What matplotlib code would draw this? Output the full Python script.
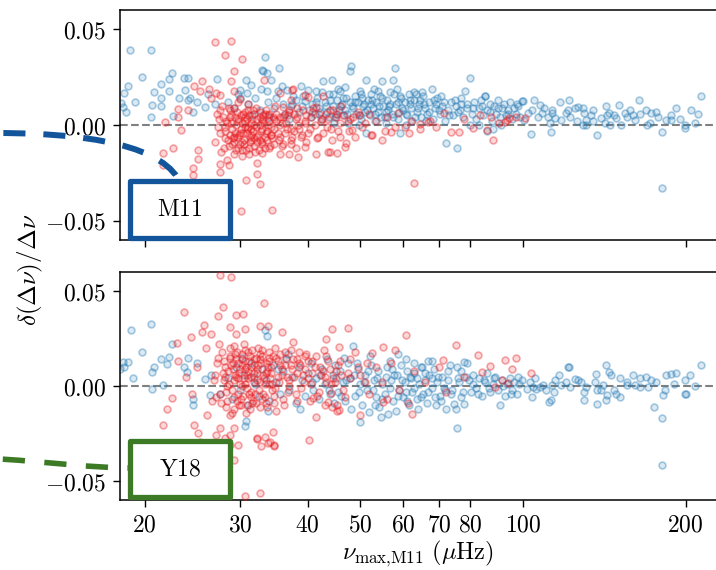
import numpy as np
import matplotlib
matplotlib.use('Agg')
import matplotlib.pyplot as plt
from matplotlib.colors import to_rgba
from matplotlib.patches import Rectangle, PathPatch
from matplotlib.path import Path
from matplotlib.ticker import FixedLocator, FixedFormatter, NullLocator

plt.rcParams['mathtext.fontset'] = 'cm'
plt.rcParams['font.family'] = 'serif'

# (nu_max, relative offset) pairs, upper panel (M11)
m11_blue = [
    (18.1, 0.0114), (18.2, 0.0096), (18.3, 0.0167), (18.6, 0.0205), (18.8, 0.0393), (19.8, 0.0253),
    (20.5, 0.039), (20.8, 0.0174), (21.4, 0.014), (21.4, 0.010), (20.6, 0.0105), (20.5, 0.0044),
    (21.4, 0.0214), (22.2, 0.0175), (22.2, 0.024), (22.5, 0.0272), (23.1, 0.014), (23.6, 0.0246),
    (23.7, 0.0184), (24.0, 0.0246), (24.2, 0.014), (22.6, 0.0047), (24.0, 0.013), (24.6, 0.007),
    (27.2, 0.0242), (25.9, 0.0096), (25.0, 0.012), (26.2, 0.016), (27.0, 0.011), (18.5, 0.007), (19.2, 0.012),
    (30.8, 0.0237), (31.4, 0.021), (33.4, 0.0356), (33.1, 0.028), (33.6, 0.0272), (35.4, 0.0295),
    (34.3, 0.0237), (35.8, 0.0202), (30.0, 0.0184), (30.9, 0.0167), (30.0, 0.014), (33.6, 0.0175),
    (35.2, 0.0175), (36.7, 0.0184), (37.6, 0.0149), (38.9, 0.0202), (40.1, 0.0184), (41.4, 0.0175),
    (33.0, 0.0286), (28.5, 0.012), (29.3, 0.009), (31.0, 0.011), (32.0, 0.014), (32.6, 0.008),
    (33.8, 0.012), (34.6, 0.009), (35.0, 0.014), (36.0, 0.011), (36.4, 0.006), (37.2, 0.010),
    (38.0, 0.013), (38.5, 0.007), (39.0, 0.010), (39.6, 0.0125), (40.3, 0.008), (31.6, 0.005),
    (34.0, 0.004), (36.9, 0.003), (29.8, 0.016), (32.8, 0.019),
    (40.8, 0.011), (41.2, 0.006), (41.7, 0.014), (42.0, 0.009), (42.4, 0.003), (42.8, 0.0228),
    (43.1, 0.012), (43.5, 0.007), (43.9, 0.016), (44.3, 0.0237), (44.6, 0.010), (45.0, 0.004),
    (45.3, 0.013), (45.7, 0.008), (46.0, 0.018), (46.4, 0.011), (46.8, 0.005), (47.2, 0.014),
    (47.5, 0.001), (47.9, 0.0281), (48.2, 0.0307), (48.5, 0.009), (48.9, 0.015), (49.2, 0.006),
    (49.6, 0.012), (50.0, 0.018), (50.3, 0.003), (50.7, 0.010), (51.0, 0.007), (51.4, 0.0237),
    (51.8, 0.013), (52.1, 0.005), (52.5, 0.016), (52.9, 0.009), (53.3, 0.002), (53.6, 0.012),
    (54.0, 0.007), (54.4, 0.015), (54.8, 0.0228), (55.2, 0.010), (55.6, 0.004), (56.0, 0.013),
    (56.4, 0.008), (56.8, 0.017), (57.2, 0.006), (57.5, 0.0237), (58.0, 0.0295), (58.3, 0.011),
    (58.7, 0.003), (59.2, -0.0044), (59.6, 0.014), (60.0, 0.008), (60.5, 0.012), (61.0, 0.005),
    (61.5, 0.016), (62.0, 0.009), (62.5, 0.002), (63.0, 0.013), (63.6, 0.007), (64.2, 0.011),
    (64.8, 0.004), (65.4, 0.015), (66.0, 0.009), (66.6, 0.006), (67.2, 0.012), (67.9, 0.0188),
    (68.1, 0.003), (68.8, 0.009), (69.5, 0.014), (70.2, 0.006), (71.0, 0.010), (71.8, 0.002),
    (72.2, -0.0096), (72.8, 0.008), (73.6, 0.012), (74.4, 0.005), (75.2, 0.010), (75.6, -0.0119),
    (51.4, -0.0044), (44.8, 0.001), (46.9, 0.020), (49.8, 0.0), (53.0, 0.019), (55.8, 0.001),
    (57.8, 0.016), (60.8, 0.0), (62.8, 0.017), (42.6, 0.017), (45.5, 0.019), (48.0, 0.012),
    (52.3, 0.011), (54.6, 0.004), (56.6, 0.010), (59.0, 0.007), (61.8, 0.011), (64.5, 0.013),
    (66.3, 0.002), (69.0, 0.011), (43.8, 0.004), (47.0, 0.008), (50.5, 0.014), (58.5, 0.019), (65.0, 0.017),
    (40.5, 0.004), (41.5, 0.012), (42.2, 0.007), (43.3, 0.010), (44.0, 0.013), (45.1, 0.006),
    (45.9, 0.010), (46.6, 0.014), (47.4, 0.006), (48.3, 0.010), (49.0, 0.012), (49.9, 0.005),
    (50.8, 0.011), (51.6, 0.008), (52.7, 0.013), (53.4, 0.006), (54.2, 0.010), (55.0, 0.014),
    (55.9, 0.007), (56.7, 0.011), (57.6, 0.004), (58.9, 0.012), (59.8, 0.009), (60.9, 0.006),
    (61.9, 0.013), (63.2, 0.004), (64.0, 0.009), (65.7, 0.011), (67.0, 0.007), (68.4, 0.013),
    (69.9, 0.008), (71.4, 0.012), (73.0, 0.005), (74.8, 0.013), (44.5, 0.016), (50.2, 0.016),
    (54.0, 0.018), (59.3, 0.015), (63.4, 0.016), (70.5, 0.015), (37.5, 0.011), (39.3, 0.015),
    (76.0, 0.007), (76.8, 0.011), (77.6, 0.004), (78.3, 0.0175), (79.0, 0.009), (79.8, 0.0244),
    (80.5, 0.006), (81.3, 0.012), (82.0, 0.003), (82.8, 0.009), (83.6, 0.013), (84.4, 0.005),
    (85.1, 0.0153), (85.3, 0.0154), (86.0, 0.008), (86.8, 0.011), (87.6, 0.002), (88.4, 0.010),
    (89.2, 0.006), (90.0, 0.013), (90.8, 0.004), (91.6, 0.009), (92.4, 0.011), (93.2, 0.005),
    (94.0, 0.008), (94.8, 0.012), (95.6, 0.003), (96.4, 0.009), (97.2, 0.006), (98.0, 0.010),
    (98.8, 0.004), (99.8, 0.0126), (88.0, -0.002), (91.0, 0.0), (83.0, 0.0), (77.0, 0.014),
    (80.0, 0.0), (86.0, -0.003), (76.5, 0.008), (78.8, 0.011), (81.0, 0.009), (84.0, 0.010),
    (87.0, 0.007), (89.8, 0.009), (93.8, 0.006), (97.6, 0.011),
    (213.2, 0.0149), (180.6, -0.0326), (204.3, 0.0079), (211.0, 0.0058), (192.2, 0.0088), (199.1, 0.0),
    (199.1, -0.0018), (180.6, -0.0035), (184.2, 0.0026), (188.2, 0.0026), (187.5, 0.0053), (163.9, 0.0132),
    (169.1, 0.0079), (172.8, 0.0061), (176.6, 0.007), (170.0, 0.0), (172.0, 0.001), (159.8, 0.0053),
    (160.9, 0.0026), (150.6, 0.0102), (154.3, 0.0061), (156.0, 0.0044), (148.9, 0.0035), (147.6, 0.0053),
    (142.7, 0.010), (143.2, 0.0053), (144.0, 0.0061), (137.3, -0.0054), (139.7, 0.0035), (141.7, 0.0009),
    (134.8, 0.0079), (133.8, 0.0053), (129.9, 0.0061), (130.9, 0.0026), (129.0, 0.0), (130.9, 0.0),
    (121.7, 0.0132), (124.7, 0.0088), (126.7, 0.0096), (129.0, 0.0088), (121.2, 0.0079), (120.3, 0.0061),
    (122.1, 0.0044), (117.5, 0.0026), (114.9, 0.0035), (113.2, 0.0061), (117.0, 0.0118), (112.9, -0.0035),
    (103.4, -0.0049), (105.0, 0.0132), (100.1, 0.0123), (107.4, 0.0105), (109.2, 0.0088), (108.3, 0.0061),
    (106.5, 0.0044), (103.9, 0.0079), (102.2, 0.0061), (100.6, 0.0026), (111.2, 0.0044), (112.1, 0.0009),
    (113.0, 0.0079), (152.0, 0.0), (165.0, 0.006), (178.0, 0.004), (195.0, 0.003), (208.0, 0.001),
    (126.0, 0.002), (135.0, 0.002), (145.0, 0.0), (158.0, 0.008),
]

m11_red = [
    (27.0, 0.0435), (28.9, 0.044), (28.1, 0.0365), (30.2, 0.0346), (29.2, 0.028), (28.9, 0.023),
    (33.2, 0.0237), (25.5, 0.0228), (24.7, 0.0205), (26.3, 0.0188), (23.0, 0.0084), (24.0, 0.0079),
    (21.8, 0.0014), (23.0, 0.004), (23.3, -0.0026), (22.6, -0.0118), (21.6, -0.0144), (21.6, -0.0207),
    (24.6, -0.0226), (24.6, -0.026), (25.7, -0.0325), (25.9, -0.0351), (26.6, -0.033), (25.0, -0.031),
    (30.1, -0.0447), (34.4, -0.0444), (27.5, -0.0247), (27.6, -0.0205), (28.6, -0.021), (30.8, -0.0286),
    (32.2, -0.0254), (32.7, -0.0307), (32.3, -0.020), (25.1, -0.0177), (25.1, -0.0128), (63.0, -0.0305),
    (38.4, -0.0165), (41.4, -0.0153), (43.6, -0.0142), (45.3, -0.0144), (47.0, -0.0116), (47.2, -0.0093),
    (54.8, -0.0077), (39.6, -0.0116), (37.0, -0.0153), (35.6, -0.0153), (32.9, -0.0144), (61.6, -0.004),
    (64.6, -0.0023), (73.7, -0.0037), (67.4, 0.002), (52.6, -0.0051), (44.0, -0.014), (76.2, -0.0037),
    (88.1, -0.008), (80.9, -0.0017), (85.9, -0.0026), (93.5, 0.0026), (66.8, 0.0016), (71.4, 0.0065),
    (64.6, 0.0004), (58.8, 0.0065), (52.4, -0.0053), (48.4, -0.0026), (57.0, -0.0035), (60.6, -0.0009),
    (100.8, 0.0035), (94.3, 0.0035), (92.5, 0.0017), (87.5, 0.004),
    (27.1, 0.0167), (27.6, 0.0156), (26.5, 0.014), (25.3, 0.018), (29.2, 0.0175), (30.0, 0.0135),
    (37.6, 0.0188), (35.6, 0.0167), (39.6, 0.0158), (41.4, 0.0096), (37.2, 0.013), (40.1, 0.0146),
    (37.4, 0.0184), (36.1, 0.0096), (42.7, 0.015),
    (27.2, 0.006), (27.5, -0.004), (27.8, 0.010), (28.0, -0.012), (28.3, 0.002), (28.5, -0.008),
    (28.7, 0.008), (29.0, -0.002), (29.2, -0.015), (29.4, 0.004), (29.6, -0.006), (29.8, 0.012),
    (30.0, -0.010), (30.2, 0.001), (30.4, -0.004), (30.6, 0.007), (30.8, -0.013), (31.0, -0.001),
    (31.2, 0.005), (31.4, -0.008), (31.6, 0.003), (31.9, -0.011), (32.1, 0.009), (32.4, -0.005),
    (32.7, 0.000), (33.0, -0.009), (33.3, 0.006), (33.6, -0.003), (34.0, 0.002), (34.4, -0.007),
    (34.8, 0.010), (35.2, -0.004), (35.6, 0.004), (36.0, -0.010), (36.5, 0.001), (37.0, 0.007),
    (37.5, -0.006), (38.0, 0.003), (38.6, -0.002), (39.2, 0.008), (39.8, -0.009), (40.5, 0.004),
    (41.2, 0.000), (42.0, 0.006), (42.8, -0.004), (43.7, 0.003), (44.6, 0.008), (45.5, -0.003),
    (46.5, 0.005), (47.5, 0.002),
    (27.0, -0.009), (27.4, 0.003), (27.7, -0.014), (28.1, -0.003), (28.4, -0.018), (28.8, 0.004),
    (29.1, -0.007), (29.3, 0.009), (29.5, 0.000), (29.7, -0.012), (29.9, -0.005), (30.1, 0.005),
    (30.3, -0.016), (30.5, -0.008), (30.7, 0.002), (30.9, -0.004), (31.1, 0.011), (31.3, -0.009),
    (31.5, -0.002), (31.8, 0.006), (32.0, -0.014), (32.3, -0.006), (32.6, 0.004), (32.9, -0.010),
    (33.2, 0.001), (33.5, 0.008), (33.9, -0.012), (34.2, -0.005), (34.6, 0.003), (35.0, 0.006),
    (35.4, -0.008), (35.8, 0.001), (36.3, -0.004), (36.8, 0.005), (37.3, -0.010), (37.8, -0.003),
    (38.3, 0.009), (38.9, -0.006), (39.5, 0.002), (40.1, -0.004), (40.8, 0.007), (41.6, -0.007),
    (42.4, 0.002), (43.3, 0.006), (44.2, -0.002), (45.1, 0.004), (46.0, -0.006), (48.0, 0.003),
    (49.5, 0.007), (51.0, 0.001),
    (28.2, -0.001), (28.6, -0.011), (28.9, 0.005), (29.3, -0.006), (29.7, 0.002), (30.0, -0.004),
    (30.3, -0.009), (30.6, 0.004), (30.9, -0.002), (31.2, -0.012), (31.5, 0.001), (31.8, -0.007),
    (32.2, 0.003), (32.5, -0.013), (32.8, -0.003), (33.1, 0.005), (33.4, -0.006), (33.8, 0.000),
    (34.1, -0.011), (34.5, 0.004), (28.4, 0.001), (28.8, -0.005), (29.2, -0.009), (29.6, 0.007),
    (30.1, -0.002), (30.5, -0.010), (30.9, 0.003), (31.3, -0.006), (31.7, 0.008), (32.1, -0.001),
    (32.6, -0.008), (33.0, 0.002), (33.5, -0.004), (34.0, 0.006), (34.7, -0.002), (35.5, 0.000),
    (36.2, 0.005), (37.2, -0.002), (38.3, 0.004), (39.5, 0.001),
    (27.3, -0.001), (27.9, 0.004), (28.2, -0.007), (28.6, 0.009), (29.0, -0.010), (29.4, -0.004),
    (29.8, 0.003), (30.2, -0.013), (30.6, -0.001), (31.0, 0.008), (31.4, -0.005), (31.8, 0.000),
    (32.2, -0.009), (32.6, 0.007), (33.0, -0.002), (33.4, -0.012), (33.8, 0.005), (34.2, -0.001),
    (34.6, -0.010), (35.0, 0.002), (35.5, -0.006), (36.0, 0.004), (36.6, -0.002), (37.2, -0.008),
    (37.8, 0.006), (38.4, 0.000), (39.0, -0.005), (39.7, 0.005), (40.4, -0.002), (41.0, 0.009),
    (41.8, -0.006), (42.6, 0.003), (43.5, -0.001), (44.4, -0.008), (45.4, 0.006), (46.2, 0.010),
    (47.8, -0.003), (49.8, 0.005), (28.9, 0.001), (30.4, 0.006), (31.7, -0.003), (32.9, 0.003),
    (34.3, -0.005), (35.8, -0.011), (36.9, 0.008), (27.6, 0.008), (29.5, -0.013), (31.2, -0.015),
    (33.7, -0.008), (38.1, -0.012),
    (48.5, 0.004), (50.5, -0.001), (52.0, 0.006), (53.5, 0.002), (55.5, -0.003), (44.0, 0.008),
    (46.0, 0.001), (49.0, -0.006), (56.0, 0.004), (62.0, 0.002), (58.0, -0.001), (69.0, -0.001),
    (78.0, 0.003), (83.5, 0.005), (90.5, 0.001), (97.0, 0.004),
]

# lower panel (Y18)
y18_blue = [
    (20.5, 0.0325), (18.9, 0.0295), (18.2, 0.0126), (18.6, 0.0126), (18.3, 0.010), (18.0, 0.009),
    (19.8, 0.0178), (22.5, 0.0221), (20.8, 0.010), (20.6, 0.0073), (20.6, -0.0014), (21.4, 0.014),
    (22.2, 0.0152), (22.0, 0.0117), (21.6, 0.0004), (24.0, 0.0147), (23.6, 0.010), (23.9, 0.0073),
    (24.6, -0.0066), (24.6, -0.0101), (25.8, 0.0038), (26.4, -0.0049), (33.4, 0.0295), (33.6, 0.0265),
    (30.7, -0.0211), (30.8, -0.0185), (25.0, 0.012), (26.5, 0.006), (27.5, -0.004), (19.0, 0.004),
    (28.5, 0.004), (29.0, -0.007), (29.5, 0.010), (30.0, -0.002), (30.5, 0.006), (31.0, -0.010),
    (31.5, 0.012), (32.0, 0.001), (32.5, -0.005), (33.0, 0.009), (33.5, 0.003), (34.0, -0.008),
    (34.5, 0.011), (35.0, 0.002), (35.5, -0.004), (36.0, 0.008), (36.5, 0.014), (37.0, -0.002),
    (37.5, 0.005), (38.0, -0.009), (38.5, 0.010), (39.0, 0.003), (39.5, -0.005), (40.0, 0.007),
    (40.5, 0.012), (41.0, -0.002), (41.5, 0.004), (42.0, -0.007), (42.5, 0.009), (43.0, 0.001),
    (43.5, 0.014), (44.0, -0.004), (44.5, 0.006), (45.0, 0.011), (30.2, 0.015), (33.8, -0.013),
    (36.8, 0.017), (38.8, -0.012), (31.8, 0.005), (35.2, 0.009),
    (45.5, -0.003), (46.0, 0.008), (46.5, 0.002), (47.0, -0.008), (47.5, 0.012), (48.0, 0.004),
    (48.5, 0.021), (49.0, -0.005), (49.5, 0.009), (50.0, 0.001), (50.1, -0.0188), (50.5, -0.010),
    (51.0, 0.006), (51.5, -0.002), (52.0, -0.0136), (52.5, 0.011), (53.0, 0.003), (53.5, -0.006),
    (54.0, 0.008), (54.6, -0.0162), (55.0, 0.001), (55.5, -0.004), (56.0, 0.010), (56.4, -0.0145),
    (57.0, 0.003), (57.5, -0.008), (58.2, -0.0133), (58.5, 0.006), (59.0, -0.002), (59.5, 0.011),
    (60.0, -0.006), (60.5, 0.002), (61.0, 0.008), (61.5, -0.010), (62.0, 0.004), (62.5, -0.003),
    (63.0, 0.007), (63.6, -0.007), (64.2, 0.001), (64.8, 0.010), (65.4, -0.004), (66.0, 0.003),
    (66.6, -0.009), (67.2, 0.006), (67.8, -0.001), (68.5, 0.009), (69.0, -0.0101), (69.5, 0.002),
    (70.2, -0.005), (71.0, 0.005), (71.8, -0.002), (72.2, -0.0119), (72.8, 0.008), (73.6, -0.004),
    (74.6, -0.0093), (75.1, -0.0119), (75.5, 0.010), (75.6, -0.022), (76.2, 0.002), (77.0, -0.006),
    (77.7, 0.0126), (77.7, -0.0093), (79.0, 0.0122), (79.5, 0.003), (80.3, -0.003), (81.0, 0.006),
    (82.0, -0.001), (83.0, 0.004), (84.0, -0.005), (85.0, 0.002), (86.0, 0.007), (87.0, -0.003),
    (88.0, 0.001), (89.0, 0.005), (90.0, -0.002), (90.9, -0.0101), (91.5, 0.003), (92.5, -0.005),
    (93.5, 0.001), (94.5, 0.004), (95.5, -0.002), (96.5, 0.002), (97.5, -0.004), (98.5, 0.001),
    (99.5, 0.003), (48.2, -0.012), (52.2, 0.016), (56.8, 0.013), (60.8, 0.014), (64.0, -0.012),
    (68.0, 0.013), (46.8, 0.015), (54.2, -0.011), (58.8, 0.017), (62.8, 0.012), (66.8, 0.013), (73.2, 0.011),
    (40.8, 0.002), (42.2, 0.006), (43.8, -0.002), (45.2, 0.004), (46.2, -0.005), (47.2, 0.003),
    (48.8, 0.006), (49.8, -0.003), (50.8, 0.002), (51.8, 0.008), (52.8, -0.002), (53.8, 0.004),
    (54.8, -0.007), (55.8, 0.005), (56.8, -0.001), (57.8, 0.006), (58.8, -0.005), (59.8, 0.003),
    (60.8, -0.003), (61.8, 0.005), (62.8, -0.001), (63.8, 0.004), (64.8, -0.006), (65.8, 0.007),
    (66.8, -0.003), (67.8, 0.004), (68.8, -0.006), (69.8, 0.005), (71.4, -0.001), (72.6, 0.003),
    (74.0, -0.002), (75.8, 0.004), (77.4, -0.003), (78.6, 0.005), (80.8, 0.001), (82.6, -0.004),
    (84.6, 0.003), (86.6, -0.001), (88.6, 0.004), (92.0, 0.000), (95.0, -0.004), (98.0, 0.005),
    (44.8, -0.009), (49.3, 0.012), (53.2, -0.010), (57.3, 0.009), (61.2, -0.008), (65.2, 0.010),
    (70.6, -0.008), (76.8, 0.008),
    (180.6, -0.0414), (180.6, -0.0171), (175.0, -0.011), (213.2, 0.0108), (203.4, 0.0056), (199.7, 0.003),
    (199.1, -0.004), (192.2, 0.007), (188.2, 0.0064), (184.2, 0.0056), (183.2, -0.0023), (181.6, -0.0049),
    (169.1, 0.0047), (172.8, 0.003), (176.6, 0.0021), (170.4, -0.0005), (159.8, 0.0059), (160.9, 0.0004),
    (164.5, -0.0005), (142.7, 0.0112), (144.0, 0.0073), (145.3, 0.0056), (151.3, 0.0042), (156.0, 0.0021),
    (155.5, 0.0004), (148.9, -0.004), (151.3, -0.0058), (147.6, -0.0023), (137.3, -0.0093), (142.3, -0.0075),
    (143.2, -0.0049), (136.6, 0.0064), (136.0, 0.0021), (137.0, -0.0023), (139.7, -0.0023), (140.7, 0.0004),
    (129.6, -0.0031), (129.6, -0.0075), (130.6, -0.0005), (127.9, 0.0021), (126.2, 0.003), (124.6, 0.0035),
    (121.7, 0.010), (116.7, 0.0056), (114.9, 0.003), (117.6, 0.0004), (120.3, 0.0021), (122.1, -0.0005),
    (113.2, 0.0004), (112.5, -0.0075), (112.0, -0.0084), (114.4, -0.0031), (110.3, -0.0023), (108.8, 0.0004),
    (107.4, -0.0005), (105.9, -0.0014), (104.6, -0.0005), (103.9, -0.0058), (103.0, 0.0021), (101.7, -0.0014),
    (105.2, 0.0042), (121.4, 0.0098), (200.4, -0.0042), (165.0, 0.004), (190.0, 0.001), (208.0, 0.0),
]

y18_red = [
    (27.5, 0.0583), (28.9, 0.0572), (33.2, 0.0436), (23.6, 0.0387), (27.9, 0.0414), (27.3, 0.037),
    (29.5, 0.0373), (25.7, 0.0321), (25.5, 0.0286), (24.3, 0.0257), (22.9, 0.0225), (26.5, 0.0274),
    (28.7, 0.0309), (29.5, 0.0274), (32.6, 0.0318), (35.8, 0.0283), (37.6, 0.023), (21.6, -0.0206),
    (22.5, -0.0063), (22.0, -0.0119), (22.8, -0.0363), (24.0, -0.0339), (25.1, -0.0248), (25.3, -0.0293),
    (24.7, -0.0206), (26.1, -0.0153), (26.2, -0.0346), (27.1, -0.0258), (27.5, -0.0223), (28.2, -0.0276),
    (28.7, -0.0258), (29.3, -0.0223), (28.8, -0.0311), (29.3, -0.0389), (29.8, -0.0311), (30.6, -0.0578),
    (32.7, -0.0562), (32.3, -0.0276), (33.4, -0.0267), (33.8, -0.0302), (34.7, -0.0311), (34.5, -0.0241),
    (40.2, -0.0284), (30.7, 0.0302), (30.4, 0.0377), (33.8, 0.0314), (44.3, 0.0302), (47.5, 0.0307),
    (43.3, 0.0248), (45.8, 0.0206), (60.7, 0.0271), (55.1, 0.0206), (58.0, 0.0188), (75.1, 0.0215),
    (71.2, 0.0136), (82.6, 0.0162), (32.8, -0.0318), (34.7, -0.0318), (34.1, -0.0297), (32.2, -0.0279),
    (41.5, -0.0161), (45.3, -0.0129), (43.0, -0.0099), (41.0, -0.0065), (62.5, -0.0148), (44.2, -0.0035),
    (43.3, 0.0023), (52.6, 0.0173), (86.8, 0.0103), (92.6, 0.0135), (95.6, 0.0091), (97.3, 0.0147),
    (84.2, 0.0073), (45.7, -0.0127), (45.3, -0.0098), (44.3, -0.011), (43.7, -0.0084), (50.1, -0.0153),
    (61.3, -0.0089), (55.1, -0.0084), (103.4, 0.007), (91.7, 0.0031), (93.8, 0.0014), (89.0, -0.0004),
    (26.0, 0.020), (25.0, 0.010), (23.8, 0.005), (24.5, -0.004), (26.6, -0.008), (23.0, 0.013),
    (27.2, 0.012), (27.5, -0.004), (27.8, 0.018), (28.0, 0.003), (28.3, -0.011), (28.5, 0.008),
    (28.7, 0.015), (29.0, -0.002), (29.2, 0.021), (29.4, 0.006), (29.6, -0.008), (29.8, 0.012),
    (30.0, 0.001), (30.2, 0.017), (30.4, -0.005), (30.6, 0.009), (30.8, -0.014), (31.0, 0.004),
    (31.2, 0.013), (31.4, -0.003), (31.6, 0.019), (31.9, 0.007), (32.1, -0.009), (32.4, 0.011),
    (32.7, 0.002), (33.0, 0.016), (33.3, -0.006), (33.6, 0.008), (34.0, 0.013), (34.4, -0.002),
    (34.8, 0.020), (35.2, 0.005), (35.6, 0.011), (36.0, -0.007), (36.5, 0.015), (37.0, 0.003),
    (37.5, 0.009), (38.0, -0.004), (38.6, 0.012), (39.2, 0.006), (39.8, 0.017), (40.5, 0.001),
    (41.2, 0.010), (42.0, -0.003), (42.8, 0.008), (43.7, 0.013), (44.6, 0.004), (45.5, 0.011),
    (46.5, -0.002), (47.5, 0.007),
    (27.0, 0.006), (27.4, 0.022), (27.7, -0.009), (28.1, 0.010), (28.4, 0.000), (28.8, -0.015),
    (29.1, 0.009), (29.3, 0.003), (29.5, 0.014), (29.7, -0.004), (29.9, 0.007), (30.1, -0.010),
    (30.3, 0.011), (30.5, 0.004), (30.7, 0.019), (30.9, -0.001), (31.1, 0.008), (31.3, -0.012),
    (31.5, 0.005), (31.8, 0.014), (32.0, -0.004), (32.3, 0.009), (32.6, 0.017), (32.9, -0.007),
    (33.2, 0.004), (33.5, 0.012), (33.9, 0.001), (34.2, 0.007), (34.6, -0.009), (35.0, 0.015),
    (35.4, 0.002), (35.8, 0.009), (36.3, 0.018), (36.8, -0.003), (37.3, 0.011), (37.8, 0.005),
    (38.3, 0.014), (38.9, -0.001), (39.5, 0.009), (40.1, 0.004), (40.8, 0.013), (41.6, -0.005),
    (42.4, 0.006), (43.3, 0.016), (44.2, 0.001), (45.1, 0.008), (46.0, 0.013), (48.0, 0.004),
    (49.5, 0.010), (51.0, 0.002),
    (28.2, 0.005), (28.6, 0.001), (28.9, 0.011), (29.3, -0.006), (29.7, 0.004), (30.0, 0.009),
    (30.3, 0.000), (30.6, 0.013), (30.9, 0.006), (31.2, -0.004), (31.5, 0.010), (31.8, 0.002),
    (32.2, 0.007), (32.5, -0.002), (32.8, 0.012), (33.1, 0.006), (33.4, 0.001), (33.8, 0.010),
    (34.1, 0.004), (34.5, 0.016), (28.4, -0.008), (28.8, 0.016), (29.2, -0.012), (29.6, 0.018),
    (30.1, -0.007), (30.5, 0.022), (30.9, -0.010), (31.3, 0.016), (31.7, -0.008), (32.1, 0.015),
    (32.6, -0.011), (33.0, 0.019), (33.5, -0.009), (34.0, 0.018), (34.7, -0.005), (35.5, 0.017),
    (36.2, -0.010), (37.2, 0.019), (38.3, -0.008), (39.5, 0.016),
    (27.3, 0.015), (27.9, 0.007), (28.3, -0.003), (28.7, 0.020), (29.1, 0.012), (29.5, 0.005),
    (29.9, -0.010), (30.3, 0.014), (30.7, 0.001), (31.1, 0.018), (31.5, -0.006), (31.9, 0.011),
    (32.3, 0.003), (32.7, 0.014), (33.1, -0.004), (33.5, 0.007), (33.9, 0.015), (34.3, 0.010),
    (34.8, -0.001), (35.3, 0.013), (35.9, 0.006), (36.4, 0.011), (37.0, 0.000), (37.6, 0.014),
    (38.2, 0.007), (38.8, 0.011), (39.4, 0.002), (40.0, 0.013), (40.7, 0.007), (41.4, 0.016),
    (42.2, 0.010), (43.0, 0.005), (44.0, 0.009), (45.0, 0.002), (46.2, 0.006), (28.0, 0.013),
    (29.4, 0.017), (30.8, 0.010), (32.4, 0.020), (34.4, 0.001), (36.6, 0.005), (38.6, 0.018),
    (31.6, -0.009), (33.7, -0.011), (29.0, -0.014), (35.0, -0.013), (40.4, -0.008), (27.1, -0.006),
    (42.9, 0.019), (26.8, 0.003),
    (48.0, 0.014), (50.0, 0.006), (52.0, -0.004), (53.5, 0.010), (55.0, 0.002), (57.0, 0.012),
    (59.0, -0.002), (63.0, 0.008), (66.0, 0.002), (70.0, 0.010), (72.0, -0.003), (78.0, 0.005),
    (47.0, -0.006), (49.0, 0.018), (51.5, 0.012), (56.0, -0.007),
]

xticks = [20, 30, 40, 50, 60, 70, 80, 100, 200]
yticks = [-0.05, 0.0, 0.05]
ytick_labels = [r'$-0.05$', r'$0.00$', r'$0.05$']

blue = '#1f77b4'
red = '#e8161b'
m11_color = '#13559b'
y18_color = '#3c7a25'

W, H = 716, 570


def fpos(x, y):
    # pixel position (from top-left) -> figure fraction
    return x / W, 1 - y / H


fig = plt.figure(figsize=(W / 100, H / 100), dpi=100)
ax_top = fig.add_axes([0.1676, 0.5789, 0.8359, 0.4035])
ax_bot = fig.add_axes([0.1676, 0.1228, 0.8359, 0.4000])

for ax, pts_b, pts_r in [(ax_top, m11_blue, m11_red), (ax_bot, y18_blue, y18_red)]:
    b = np.array(pts_b)
    r = np.array(pts_r)
    ax.axhline(0, color='gray', ls='--', lw=1.5, zorder=1)
    # light fill with a stronger rim, so overlapping points build up
    ax.scatter(b[:, 0], b[:, 1], s=24, facecolors=to_rgba(blue, 0.16),
               edgecolors=to_rgba(blue, 0.38), lw=1.2, zorder=2)
    ax.scatter(r[:, 0], r[:, 1], s=24, facecolors=to_rgba(red, 0.16),
               edgecolors=to_rgba(red, 0.38), lw=1.2, zorder=3)
    ax.set_xscale('log')
    ax.set_xlim(18, 230)
    ax.set_ylim(-0.06, 0.06)
    ax.xaxis.set_major_locator(FixedLocator(xticks))
    ax.xaxis.set_minor_locator(NullLocator())
    ax.xaxis.set_major_formatter(FixedFormatter([rf'${t}$' for t in xticks]))
    ax.yaxis.set_major_locator(FixedLocator(yticks))
    ax.yaxis.set_major_formatter(FixedFormatter(ytick_labels))
    ax.tick_params(direction='out', length=5, width=1.0, labelsize=17, pad=5)
    for sp in ax.spines.values():
        sp.set_linewidth(1.1)

ax_top.tick_params(labelbottom=False)

fig.text(0.042, 0.526, r'$\delta(\Delta\nu)/\Delta\nu$', rotation=90,
         ha='center', va='center', fontsize=18)
fig.text(0.583, 0.028, r'$\nu_{\rm max{,}M11}\ (\mu{\rm Hz})$',
         ha='center', va='center', fontsize=17.5)

# labelled boxes
for (x0, y0, x1, y1), label, col in [((130, 181, 230, 238), 'M11', m11_color),
                                      ((130, 441, 230, 497), 'Y18', y18_color)]:
    left, bottom = fpos(x0, y1)
    right, top = fpos(x1, y0)
    box = Rectangle((left, bottom), right - left, top - bottom, transform=fig.transFigure,
                    facecolor='white', edgecolor=col, lw=3.8, joinstyle='round', zorder=10)
    fig.patches.append(box)
    fig.text((left + right) / 2, (bottom + top) / 2, r'$\rm %s$' % label, ha='center', va='center',
             fontsize=17, zorder=11)

# dashed leader curves, running under the boxes
p0, p1, p2, p3 = fpos(-5, 133), fpos(110, 133), fpos(176, 152), fpos(183, 192)
curve = Path([p0, p1, p2, p3], [Path.MOVETO, Path.CURVE4, Path.CURVE4, Path.CURVE4])
fig.patches.append(PathPatch(curve, transform=fig.transFigure, fill=False, edgecolor=m11_color,
                             lw=4.3, linestyle=(5.3, (3.7, 3.0)), zorder=9))

q0, q1, q2, q3 = fpos(0, 459), fpos(50, 462), fpos(90, 468), fpos(135, 468)
curve2 = Path([q0, q1, q2, q3], [Path.MOVETO, Path.CURVE4, Path.CURVE4, Path.CURVE4])
fig.patches.append(PathPatch(curve2, transform=fig.transFigure, fill=False, edgecolor=y18_color,
                             lw=4.0, linestyle=(7.0, (4.0, 3.5)), zorder=9))

fig.savefig('out.png', dpi=100)
